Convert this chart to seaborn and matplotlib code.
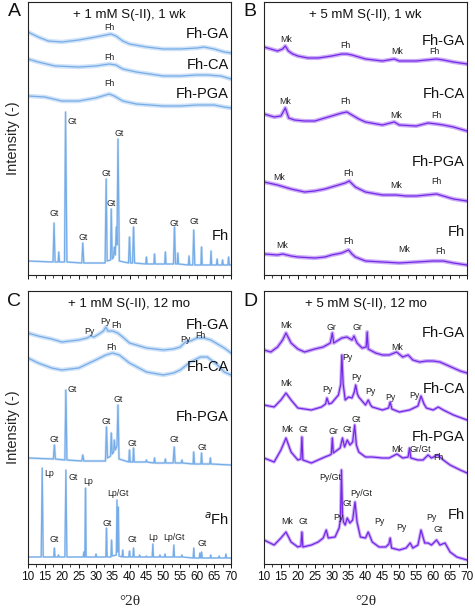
import seaborn as sns
import matplotlib.pyplot as plt
from matplotlib.ticker import MultipleLocator

# ---- data: (2theta, intensity offset units) ----
A_GA = [(10, 243), (13, 238), (16, 234), (20, 233), (25, 235), (30, 238), (33, 240), (34.5, 241),
        (36, 239), (38, 234), (40, 231), (45, 228), (50, 226), (55, 226), (60, 227), (62, 228),
        (65, 226), (68, 223), (70, 222)]
A_CA = [(10, 216), (13, 213), (18, 209), (25, 208), (30, 209), (34, 211), (36, 210), (38, 206),
        (42, 203), (50, 199), (55, 199), (60, 200), (63, 200), (67, 199), (70, 196)]
A_PGA = [(10, 179), (15, 178), (20, 174), (25, 174), (30, 177), (34, 181), (35.5, 179), (38, 174),
         (42, 171), (50, 169), (55, 169), (60, 170), (65, 170), (68, 168), (70, 167)]
A_FH = [(10, 14), (17.4, 13), (17.7, 52), (18.0, 13), (18.9, 13), (19.1, 23), (19.3, 13),
        (20.8, 13), (21.1, 163), (21.5, 13), (25.9, 12), (26.2, 32), (26.5, 12), (32.8, 12),
        (33.1, 96), (33.4, 14), (34.4, 15), (34.6, 66), (34.9, 16), (35.3, 18), (35.5, 28),
        (35.8, 20), (36.1, 48), (36.3, 30), (36.6, 136), (37.0, 14), (39.7, 12), (40.0, 38),
        (40.3, 12), (40.9, 12), (41.2, 48), (41.5, 12), (44.8, 11), (45.0, 18), (45.2, 11),
        (47.2, 11), (47.4, 21), (47.6, 11), (50.4, 11), (50.6, 23), (50.8, 11), (53.0, 11),
        (53.3, 48), (53.6, 11), (54.1, 11), (54.3, 22), (54.5, 11), (57.4, 10), (57.6, 19),
        (57.8, 10), (58.7, 10), (59.0, 45), (59.3, 10), (61.1, 10), (61.3, 28), (61.5, 10),
        (63.9, 10), (64.1, 24), (64.3, 10), (65.7, 10), (65.9, 16), (66.1, 10), (67.3, 10),
        (67.5, 15), (67.7, 10), (69.1, 10), (69.3, 18), (69.5, 10), (70, 10)]

B_GA = [(10, 228), (12, 226), (14, 224), (15.5, 226), (16.3, 229), (17.2, 224), (18.5, 221),
        (20, 219), (23, 217), (26, 217), (30, 219), (33, 221), (34.5, 221), (36, 220), (38, 218),
        (40, 216), (45, 214), (48.5, 216), (50, 214), (55, 214), (58, 215), (61, 216), (63, 215),
        (66, 213), (70, 211)]
B_CA = [(10, 161), (13, 158), (15, 159), (16.3, 167), (17.3, 157), (19, 155), (22, 154), (25, 154),
        (28, 157), (30, 159), (33, 162), (34.5, 163), (36, 160), (38, 156), (40, 153), (45, 150),
        (48.5, 153), (50, 150), (55, 149), (58.5, 152), (61, 151), (63, 150), (66, 148), (70, 144)]
B_PGA = [(10, 93), (14, 90), (18, 86), (22, 83), (25, 84), (28, 86), (31, 89), (34, 92), (35.2, 94),
         (37, 88), (40, 83), (45, 80), (49, 80), (52, 79), (55, 79), (58, 80), (61, 81), (63, 79),
         (66, 76), (70, 74)]
B_FH = [(10, 21), (14, 20), (15.5, 21), (18, 19), (20, 18), (25, 17), (28, 18), (30, 20), (33, 22),
        (35, 25), (36, 21), (37, 18), (40, 14), (45, 13), (50, 12), (55, 13), (60, 14), (63, 14),
        (66, 12), (70, 10)]

C_GA = [(10, 231), (13, 228), (17, 225), (20, 222), (25, 224), (27.5, 226), (28.5, 228), (29.5, 227),
        (31, 230), (32.3, 233), (33, 237), (33.6, 233), (35, 233), (36.5, 231), (38, 227), (40, 221),
        (45, 216), (50, 214), (53, 215), (55, 217), (56.5, 222), (58, 223), (60, 226), (62, 226),
        (64, 224), (66, 220), (68, 216), (70, 211)]
C_CA = [(10, 206), (13, 201), (17, 196), (20, 194), (25, 196), (30, 204), (33, 209), (35, 211),
        (37, 209), (40, 201), (45, 192), (50, 189), (53, 191), (55, 194), (58, 202), (61, 207),
        (63, 207), (66, 199), (68, 192), (70, 189)]
C_PGA = [(10, 106), (17.5, 105), (17.8, 119), (18.1, 105), (20.9, 104), (21.2, 174), (21.5, 104),
         (25.9, 103), (26.2, 109), (26.5, 103), (32.9, 103), (33.2, 137), (33.5, 106), (34.4, 108),
         (34.6, 131), (34.9, 110), (35.3, 112), (35.5, 124), (35.8, 114), (36.3, 118), (36.6, 159),
         (36.9, 105), (39.8, 102), (40.0, 114), (40.2, 102), (41.0, 102), (41.2, 116), (41.4, 102),
         (44.8, 102), (45, 104), (45.2, 102), (47.2, 101), (47.4, 106), (47.6, 101), (50.4, 101),
         (50.6, 105), (50.8, 101), (52.9, 101), (53.2, 117), (53.5, 101), (55.3, 101), (55.5, 104),
         (55.7, 101), (58.8, 100), (59.0, 112), (59.2, 100), (61.1, 100), (61.3, 111), (61.5, 100),
         (63.7, 100), (63.9, 106), (64.1, 100), (70, 99)]
C_FH = [(10, 7), (13.9, 7), (14.2, 96), (14.5, 7), (17.6, 7), (17.8, 16), (18.0, 7), (18.8, 7),
        (19.0, 9), (19.2, 7), (20.9, 7), (21.2, 94), (21.5, 7), (26.3, 7), (26.5, 12), (26.7, 7),
        (26.8, 7), (27.0, 76), (27.2, 7), (29.9, 7), (30.1, 10), (30.3, 7), (33.0, 7), (33.2, 36),
        (33.4, 7), (34.5, 7), (34.7, 24), (34.9, 8), (36.1, 9), (36.3, 64), (36.5, 12), (36.7, 57),
        (36.9, 8), (37.8, 7), (38.0, 14), (38.2, 7), (39.8, 7), (40.0, 13), (40.2, 7), (41.0, 7),
        (41.2, 16), (41.4, 7), (42.8, 7), (43, 9), (43.2, 7), (44.8, 7), (45, 8), (45.2, 7),
        (46.7, 7), (46.9, 20), (47.1, 7), (48.8, 7), (49, 9), (49.2, 7), (50.3, 7), (50.5, 10),
        (50.7, 7), (52.9, 7), (53.1, 19), (53.3, 7), (55.3, 7), (55.5, 9), (55.7, 7), (58.8, 6),
        (59.0, 16), (59.2, 6), (60.6, 6), (60.8, 11), (61.0, 6), (61.1, 6), (61.3, 12), (61.5, 6),
        (63.8, 6), (64, 9), (64.2, 6), (66.3, 6), (66.5, 8), (66.7, 6), (68.3, 6), (68.5, 10),
        (68.7, 6), (70, 6)]

D_GA = [(10, 214), (12, 212), (14, 217), (15.5, 224), (16.5, 231), (18, 221), (20, 215), (22, 212),
        (25, 215), (27.5, 217), (29.6, 221), (30.2, 231), (30.6, 221), (33, 226), (34.5, 227),
        (36, 224), (36.6, 228), (37.5, 221), (39, 216), (40.2, 217), (40.5, 232), (40.8, 215),
        (43, 211), (45, 209), (47, 209), (49.2, 212), (51, 207), (52.6, 209), (54, 204), (56, 202),
        (58, 203), (60, 203), (62, 202), (64, 199), (66, 196), (68, 193), (70, 191)]
D_CA = [(10, 159), (13, 157), (15, 164), (16.5, 171), (18, 164), (20, 156), (24, 154), (27, 157),
        (28.2, 160), (28.6, 166), (29.2, 160), (30, 161), (32, 169), (32.7, 180), (33, 209),
        (33.4, 180), (34, 164), (35, 167), (36, 166), (36.7, 172), (37.1, 179), (37.6, 170),
        (38, 167), (40, 159), (40.8, 164), (41.5, 159), (42, 157), (45, 154), (46.8, 156),
        (47.3, 162), (47.8, 155), (50, 152), (53, 154), (55.5, 158), (56.4, 168), (57.3, 160),
        (58, 156), (60, 154), (61.5, 157), (63, 154), (66, 149), (70, 144)]
D_PGA = [(10, 106), (13, 102), (15, 114), (16.5, 126), (18, 112), (20, 104), (20.9, 105), (21.2, 127),
         (21.5, 104), (24, 101), (26, 104), (28, 107), (29.5, 109), (29.9, 110), (30.2, 126),
         (30.5, 111), (32.5, 116), (33.2, 126), (33.8, 117), (34.6, 124), (35.4, 119), (36.2, 122),
         (36.8, 139), (37.3, 119), (38, 112), (40, 107), (42, 107), (45, 106), (47, 106), (49.3, 110),
         (51, 106), (52.6, 107), (53, 116), (53.4, 106), (55.5, 104), (57, 104), (58.5, 109),
         (59.5, 106), (61.3, 109), (63, 104), (65, 99), (68, 94), (70, 91)]
D_FH = [(10, 24), (13, 19), (15, 26), (16.5, 32), (18, 22), (20, 17), (20.9, 18), (21.2, 32),
        (21.5, 17), (24, 19), (26, 22), (27.5, 26), (28.4, 34), (29, 26), (31, 27), (32.2, 36),
        (32.6, 45), (32.9, 94), (33.2, 50), (33.5, 42), (34, 39), (34.6, 46), (35.4, 41), (36.2, 44),
        (36.9, 62), (37.5, 42), (38.5, 27), (40, 26), (40.8, 32), (42, 22), (44, 17), (46, 17),
        (46.9, 20), (47.3, 26), (47.7, 16), (50, 14), (52, 16), (53.2, 21), (54, 16), (55.5, 19),
        (56.4, 34), (57.5, 21), (58.5, 21), (59.5, 19), (61, 24), (62, 19), (63.5, 21), (65, 12),
        (67, 7), (70, 4)]

# phase labels: (2theta, height, text)
A_PEAKS = [(34, 248, "Fh"), (34, 217, "Fh"), (34, 191, "Fh"),
           (17.7, 62, "Gt"), (23.1, 153, "Gt"), (26.2, 38, "Gt"), (33.1, 101, "Gt"),
           (34.6, 72, "Gt"), (36.8, 141, "Gt"), (41.2, 54, "Gt"), (53.3, 52, "Gt"), (59.0, 53, "Gt")]
B_PEAKS = [(16.5, 236, "Mk"), (34, 230, "Fh"), (49.5, 223, "Mk"), (60.5, 223, "Fh"),
           (16.3, 173, "Mk"), (34, 173, "Fh"), (49, 159, "Mk"), (61, 159, "Fh"),
           (14.5, 97, "Mk"), (35, 101, "Fh"), (49.2, 90, "Mk"), (61, 93, "Fh"),
           (15.5, 29, "Mk"), (35, 33, "Fh"), (51.5, 25, "Mk"), (62, 24, "Fh")]
C_PEAKS = [(28, 233, "Py"), (33, 242, "Py"), (36, 239, "Fh"), (56.5, 225, "Py"), (61, 229, "Fh"),
           (34.5, 217, "Fh"),
           (17.8, 125, "Gt"), (22.9, 174, "Gt"), (33.2, 143, "Gt"), (36.5, 165, "Gt"),
           (40.9, 121, "Gt"), (53.2, 125, "Gt"), (61.5, 117, "Gt"),
           (16.1, 90, "Lp"), (17.8, 24, "Gt"), (23.3, 87, "Gt"), (27.7, 82, "Lp"), (33.4, 41, "Gt"),
           (36.6, 70, "Lp/Gt"), (40.8, 24, "Gt"), (46.9, 27, "Lp"), (53, 27, "Lp/Gt"), (61.5, 21, "Gt")]
D_PEAKS = [(16.5, 239, "Mk"), (29.8, 237, "Gr"), (37.5, 237, "Gr"), (49.3, 216, "Mk"),
           (16.5, 180, "Mk"), (28.8, 174, "Py"), (34.6, 206, "Py"), (37.3, 187, "Py"),
           (41.4, 172, "Py"), (47.5, 167, "Py"), (54.5, 168, "Py"),
           (16.8, 135, "Mk"), (21.7, 135, "Gt"), (30.4, 132, "Gr"), (34.5, 134, "Gt"),
           (37.1, 145, "Gt"), (49.5, 115, "Mk"), (56.3, 115, "Gr/Gt"), (61.4, 106, "Fh"),
           (16.8, 42, "Mk"), (21.7, 43, "Gt"), (31.9, 46, "Py"), (29.6, 87, "Py/Gt"),
           (34.7, 60, "Gt"), (38.8, 71, "Py/Gt"), (44.2, 43, "Py"), (50.6, 36, "Py"),
           (59.5, 47, "Py"), (61.6, 35, "Gt")]

A_NAMES = [(241, "Fh-GA"), (210, "Fh-CA"), (181, "Fh-PGA"), (39, "Fh")]
B_NAMES = [(234, "Fh-GA"), (181, "Fh-CA"), (113, "Fh-PGA"), (43, "Fh")]
C_NAMES = [(239, "Fh-GA"), (197, "Fh-CA"), (147, "Fh-PGA"), (44, "$^{a}$Fh")]
D_NAMES = [(231, "Fh-GA"), (175, "Fh-CA"), (127, "Fh-PGA"), (49, "Fh")]

TITLES = ["+ 1 mM S(-II), 1 wk", "+ 5 mM S(-II), 1 wk", "+ 1 mM S(-II), 12 mo", "+ 5 mM S(-II), 12 mo"]
LETTERS = ["A", "B", "C", "D"]

BLUE, BLUE_LIGHT = "#76ade8", "#bcd7f5"
PURPLE, PURPLE_LIGHT = "#7527e8", "#b58af3"

sns.set_theme(style="ticks")
plt.rcParams["font.family"] = ["Liberation Sans", "DejaVu Sans"]
plt.rcParams["axes.linewidth"] = 0.8

fig = plt.figure(figsize=(4.75, 6.08), dpi=100)
W, H = 475, 608
boxes = [(28, 2), (264, 2), (28, 291), (264, 291)]

# halo width per series (sharp-peak patterns get a thin halo)
panels = [
    ([A_GA, A_CA, A_PGA, A_FH], [3.2, 3.2, 3.2, 1.6], A_PEAKS, A_NAMES, BLUE, BLUE_LIGHT),
    ([B_GA, B_CA, B_PGA, B_FH], [3.0, 3.0, 3.0, 3.0], B_PEAKS, B_NAMES, PURPLE, PURPLE_LIGHT),
    ([C_GA, C_CA, C_PGA, C_FH], [3.2, 3.2, 1.8, 1.4], C_PEAKS, C_NAMES, BLUE, BLUE_LIGHT),
    ([D_GA, D_CA, D_PGA, D_FH], [2.8, 2.4, 2.4, 2.4], D_PEAKS, D_NAMES, PURPLE, PURPLE_LIGHT),
]

for i, (series, halos, peaks, names, col, col_l) in enumerate(panels):
    x0, y0 = boxes[i]
    ax = fig.add_axes([x0 / W, 1 - (y0 + 273) / H, 203 / W, 273 / H])
    for s, hw in zip(series, halos):
        xs, ys = zip(*s)
        sns.lineplot(x=list(xs), y=list(ys), ax=ax, sort=False, estimator=None,
                     color=col_l, lw=hw, alpha=0.7)
        sns.lineplot(x=list(xs), y=list(ys), ax=ax, sort=False, estimator=None,
                     color=col, lw=0.9)
    for px, py, t in peaks:
        ax.text(px, py, t, fontsize=6.3, ha="center", va="center", color="#222222")
    for py, t in names:
        ax.text(69.3, py, t, fontsize=10.5, ha="right", va="center", color="#111111")
    ax.text(40, 260, TITLES[i], fontsize=9.5, ha="center", va="center", color="#111111")

    ax.set_xlim(10, 70)
    ax.set_ylim(0, 273)
    ax.set_yticks([])
    ax.set_xticks(range(10, 71, 5))
    ax.xaxis.set_minor_locator(MultipleLocator(2.5))
    ax.tick_params(axis="x", which="major", length=3, width=0.7, direction="out",
                   labelsize=8.5, pad=2, colors="#111111")
    ax.tick_params(axis="x", which="minor", length=2, width=0.6, direction="out")
    for sp in ax.spines.values():
        sp.set_visible(True)
        sp.set_color("#222222")
        sp.set_linewidth(0.8)
    if i < 2:
        ax.set_xticklabels([])
    else:
        ax.set_xlabel("°2θ", fontsize=11, family=["Liberation Serif", "DejaVu Serif"], labelpad=9)
    if i % 2 == 0:
        ax.set_ylabel("Intensity (-)", fontsize=10.5, labelpad=6)
    else:
        ax.set_ylabel("")
    fig.text((x0 - 14) / W, 1 - (y0 + 10) / H, LETTERS[i], fontsize=14,
             ha="center", va="center", color="#111111")

fig.savefig("out.png", dpi=100)
